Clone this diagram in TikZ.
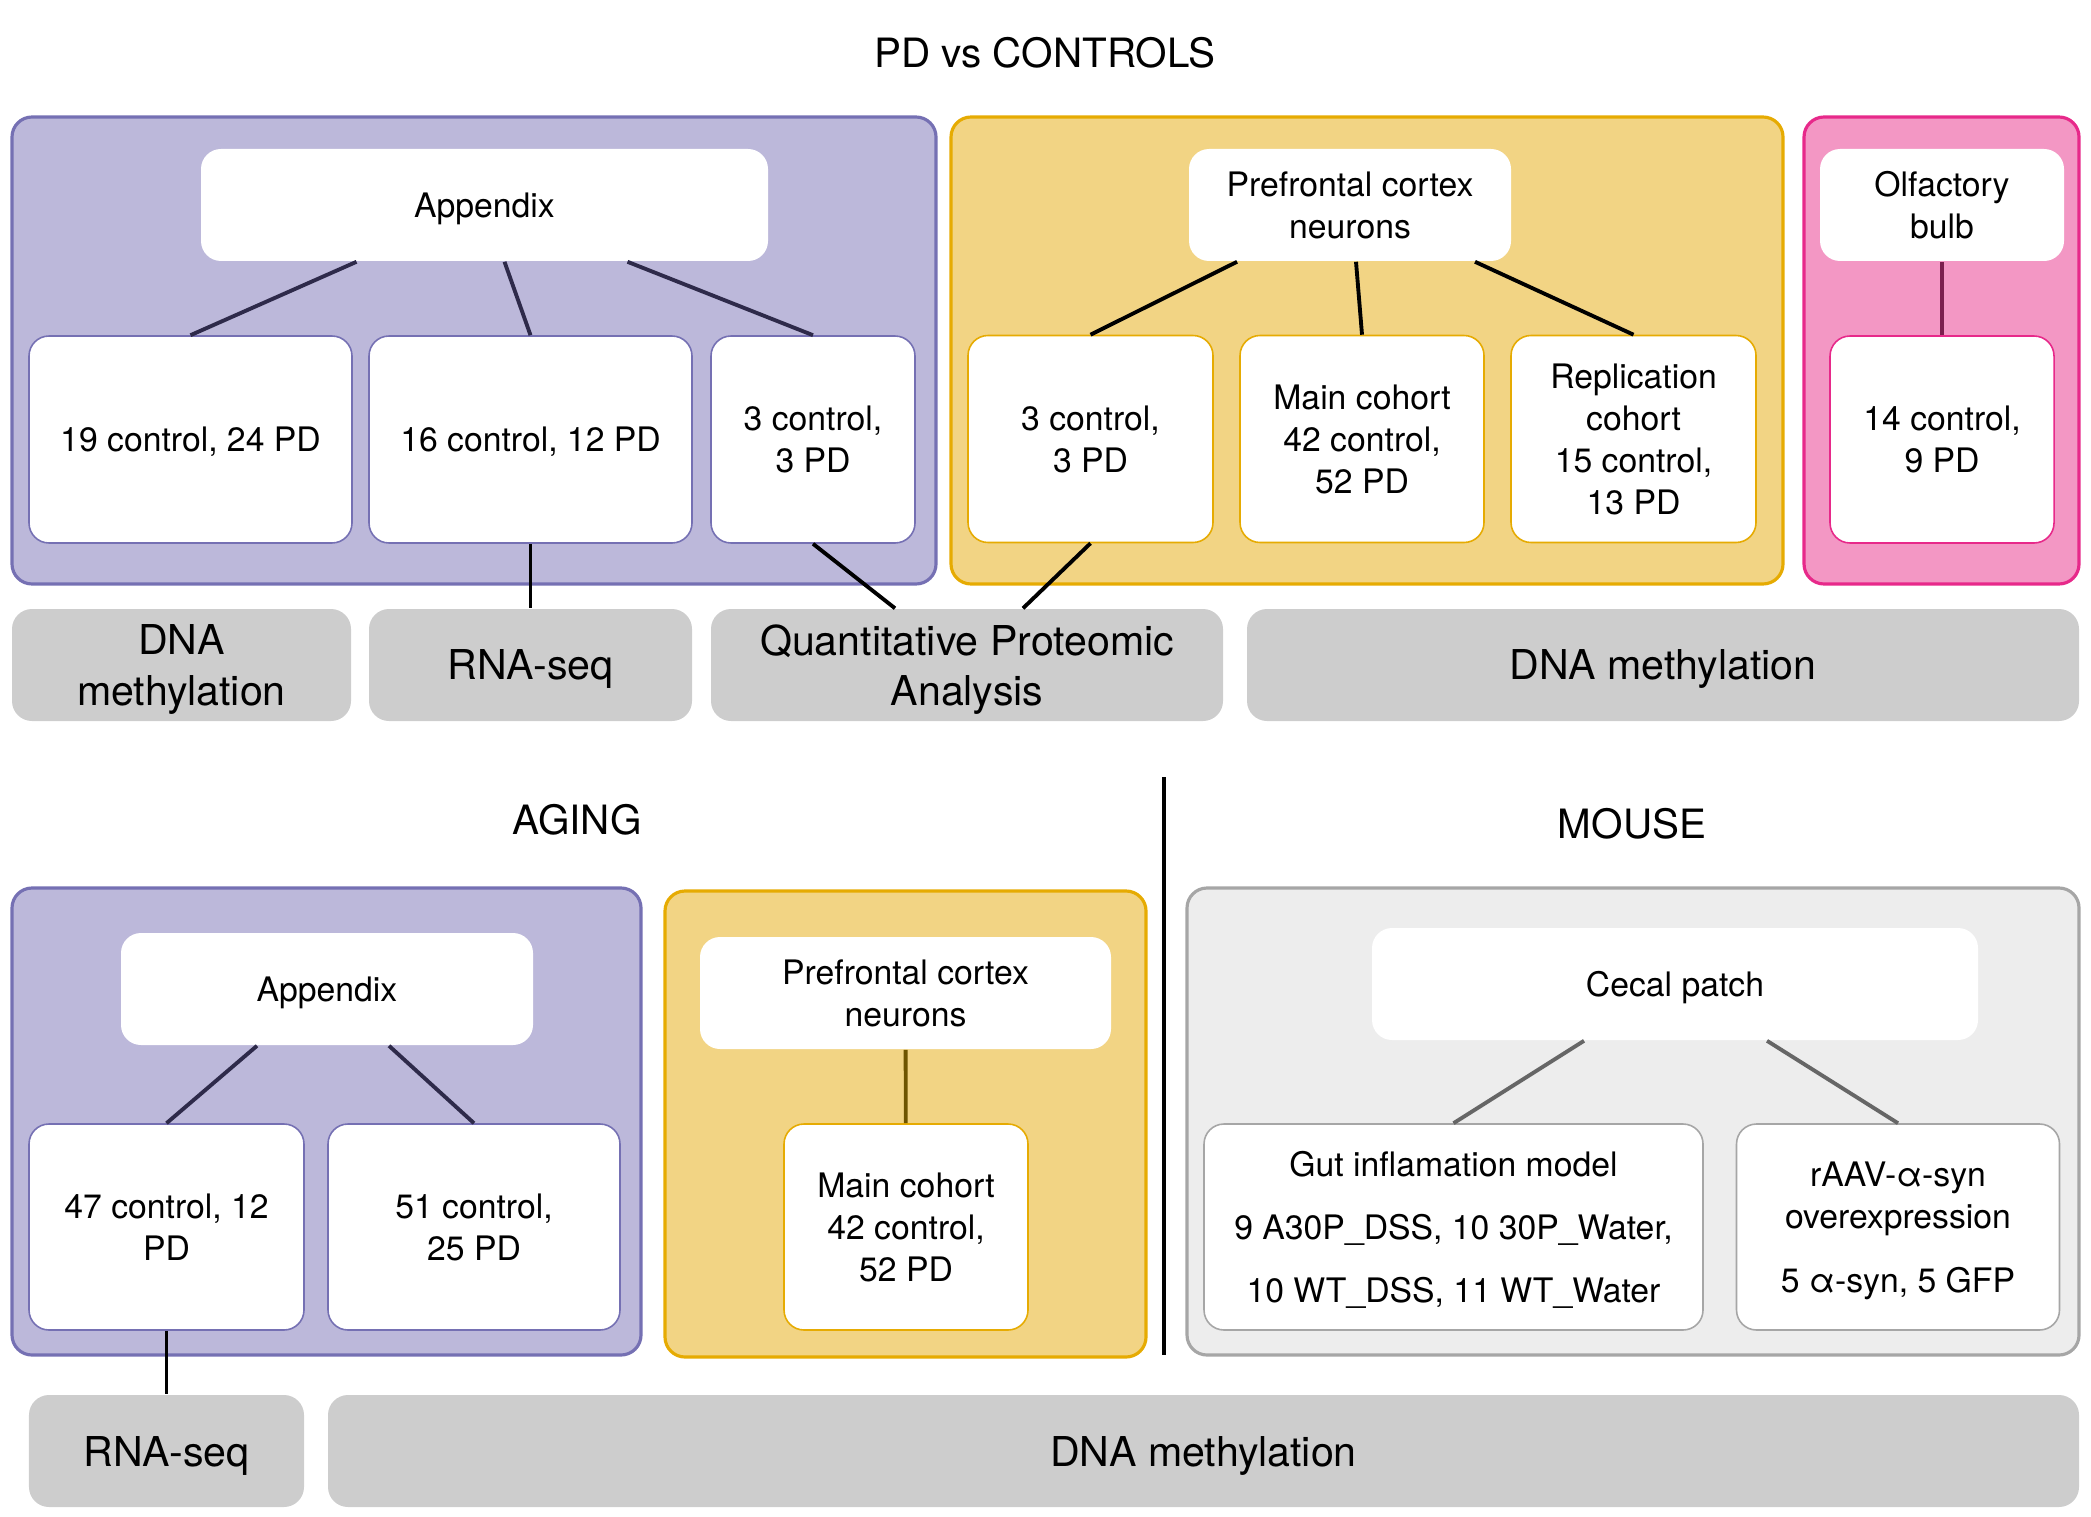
\documentclass[tikz,border=0pt]{standalone}
\usepackage{fontspec}
\setmainfont{TeX Gyre Heros}
\usetikzlibrary{positioning}

\definecolor{purplefill}{HTML}{BCB8DA}
\definecolor{purpleline}{HTML}{7570B3}
\definecolor{purplelink}{HTML}{2E2A4A}
\definecolor{yellowfill}{HTML}{F2D484}
\definecolor{yellowline}{HTML}{E6AB02}
\definecolor{yellowlink}{HTML}{6E5400}
\definecolor{pinkfill}{HTML}{F397C4}
\definecolor{pinkline}{HTML}{E7298A}
\definecolor{pinklink}{HTML}{7B1F4E}
\definecolor{mousefill}{HTML}{EDEDED}
\definecolor{mouseline}{HTML}{A6A6A6}
\definecolor{labelfill}{HTML}{CDCDCD}

\begin{document}
\begin{tikzpicture}[line join=round]
		\tikzstyle{group}=[rounded corners=0.2cm,line width=0.9pt,inner sep=0pt,minimum height=4.67cm]
		\tikzstyle{box}=[rounded corners=0.2cm,fill=white,draw,line width=0.45pt,inner sep=0pt,text depth=0pt,align=center,font={\fontsize{9.6}{12}\selectfont}]
		\tikzstyle{head}=[box,draw=none,minimum height=1.12cm]
		\tikzstyle{sample}=[box,minimum height=2.07cm]
		\tikzstyle{assay}=[rounded corners=0.2cm,fill=labelfill,inner sep=0pt,text depth=0pt,minimum height=1.12cm,align=center,font={\fontsize{11.7}{14.4}\selectfont}]
		\tikzstyle{title}=[font={\fontsize{11.5}{14}\selectfont}]
		\tikzstyle{link}=[line width=1.1pt]
		\useasboundingbox (0,0) rectangle (20.91,-15.16);

		% PD vs controls
		\node[title] (pdtitle) at (10.45,-0.53) {PD vs CONTROLS};
		\node[group,fill=purplefill,draw=purpleline,minimum width=9.24cm] (appgroup) at (4.74,-3.505) {};
		\node[group,fill=yellowfill,draw=yellowline,minimum width=8.32cm] (pfcgroup) at (13.67,-3.505) {};
		\node[group,fill=pinkfill,draw=pinkline,minimum width=2.75cm] (obgroup) at (19.415,-3.505) {};

		\node[head,minimum width=5.67cm] (app) at (4.845,-2.05) {Appendix};
		\node[sample,draw=purpleline,minimum width=3.23cm] (appA) at (1.905,-4.395) {19 control, 24 PD};
		\node[sample,draw=purpleline,minimum width=3.23cm] (appB) at (5.305,-4.395) {16 control, 12 PD};
		\node[sample,draw=purpleline,minimum width=2.04cm] (appC) at (8.13,-4.395) {3 control,\\3 PD};

		\node[head,minimum width=3.22cm] (pfc) at (13.50,-2.05) {Prefrontal cortex\\neurons};
		\node[sample,draw=yellowline,minimum width=2.45cm] (pfcA) at (10.905,-4.39) {3 control,\\3 PD};
		\node[sample,draw=yellowline,minimum width=2.44cm] (pfcB) at (13.62,-4.39) {Main cohort\\42 control,\\52 PD};
		\node[sample,draw=yellowline,minimum width=2.45cm] (pfcC) at (16.335,-4.39) {Replication\\cohort\\15 control,\\13 PD};

		\node[head,minimum width=2.44cm] (ob) at (19.42,-2.05) {Olfactory\\bulb};
		\node[sample,draw=pinkline,minimum width=2.24cm] (obA) at (19.42,-4.395) {14 control,\\9 PD};

		\node[assay,minimum width=3.39cm] (dnaA) at (1.815,-6.65) {DNA\\methylation};
		\node[assay,minimum width=3.23cm] (rnaA) at (5.305,-6.65) {RNA-seq};
		\node[assay,minimum width=5.12cm] (prot) at (9.67,-6.65) {Quantitative Proteomic\\Analysis};
		\node[assay,minimum width=8.32cm] (dnaB) at (16.63,-6.65) {DNA methylation};

		\draw[link,purplelink] ([xshift=-1.28cm]app.south) -- (appA.north);
		\draw[link,purplelink] ([xshift=0.20cm]app.south) -- (appB.north);
		\draw[link,purplelink] ([xshift=1.43cm]app.south) -- (appC.north);
		\draw[link] ([xshift=-1.13cm]pfc.south) -- (pfcA.north);
		\draw[link] ([xshift=0.06cm]pfc.south) -- (pfcB.north);
		\draw[link] ([xshift=1.25cm]pfc.south) -- (pfcC.north);
		\draw[link,pinklink] (ob) -- (obA);
		\draw[link] (appB.south) -- (rnaA.north);
		\draw[link] (appC.south) -- ([xshift=-0.72cm]prot.north);
		\draw[link] (pfcA.south) -- ([xshift=0.56cm]prot.north);

		% aging and mouse
		\node[title] (agetitle) at (5.77,-8.20) {AGING};
		\node[title] (mousetitle) at (16.32,-8.24) {MOUSE};
		\coordinate (divtop) at (11.64,-7.77);
		\coordinate (divbot) at (11.64,-13.55);
		\draw[line width=1.1pt] (divtop) -- (divbot);

		\node[group,fill=purplefill,draw=purpleline,minimum width=6.29cm] (agegroup) at (3.265,-11.215) {};
		\node[group,fill=yellowfill,draw=yellowline,minimum width=4.81cm,minimum height=4.66cm] (cohgroup) at (9.055,-11.24) {};
		\node[group,fill=mousefill,draw=mouseline,minimum width=8.92cm] (mousegroup) at (16.33,-11.215) {};

		\node[head,minimum width=4.12cm] (app2) at (3.27,-9.89) {Appendix};
		\node[sample,draw=purpleline,minimum width=2.75cm,minimum height=2.06cm] (app2A) at (1.665,-12.27) {47 control, 12\\PD};
		\node[sample,draw=purpleline,minimum width=2.92cm,minimum height=2.06cm] (app2B) at (4.74,-12.27) {51 control,\\25 PD};

		\node[head,minimum width=4.11cm] (pfc2) at (9.055,-9.93) {Prefrontal cortex\\neurons};
		\node[sample,draw=yellowline,minimum width=2.44cm,minimum height=2.06cm] (pfc2A) at (9.06,-12.27) {Main cohort\\42 control,\\52 PD};

		\node[head,minimum width=6.06cm] (cecal) at (16.75,-9.84) {Cecal patch};
		\node[sample,draw=mouseline,minimum width=4.99cm,minimum height=2.06cm] (gut) at (14.535,-12.27) {Gut inflamation model\\[6pt]9 A30P\_DSS, 10 30P\_Water,\\[6pt]10 WT\_DSS, 11 WT\_Water};
		\node[sample,draw=mouseline,minimum width=3.23cm,minimum height=2.06cm] (raav) at (18.98,-12.27) {rAAV-α-syn\\overexpression\\[6pt]5 α-syn, 5 GFP};

		\node[assay,minimum width=2.75cm] (rnaB) at (1.665,-14.51) {RNA-seq};
		\node[assay,minimum width=17.51cm] (dnaC) at (12.035,-14.51) {DNA methylation};

		\draw[link,purplelink] ([xshift=-0.70cm]app2.south) -- (app2A.north);
		\draw[link,purplelink] ([xshift=0.62cm]app2.south) -- (app2B.north);
		\draw[link,yellowlink] (pfc2) -- (pfc2A);
		\draw[link,black!60] ([xshift=-0.91cm]cecal.south) -- (gut.north);
		\draw[link,black!60] ([xshift=0.92cm]cecal.south) -- (raav.north);
		\draw[link] (app2A.south) -- (rnaB.north);
	\end{tikzpicture}
\end{document}
